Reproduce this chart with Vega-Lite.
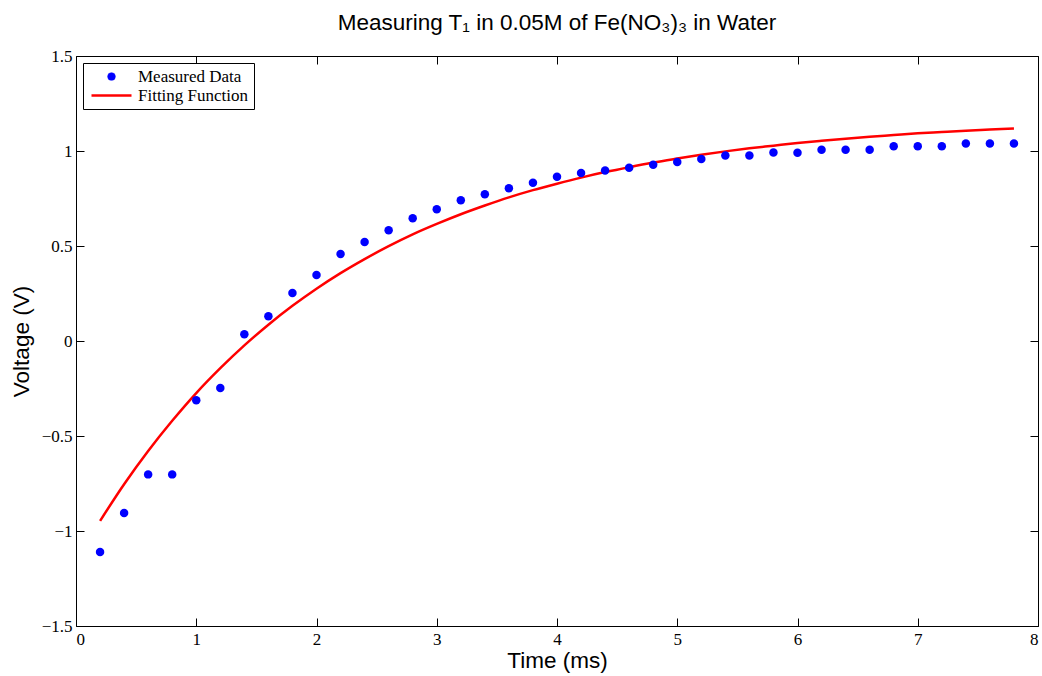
{
  "$schema": "https://vega.github.io/schema/vega-lite/v6.json",
  "width": 962,
  "height": 570,
  "autosize": "none",
  "padding": {"left": 76, "top": 56, "right": 4, "bottom": 50},
  "background": "white",
  "title": {
    "text": "Measuring T₁ in 0.05M of Fe(NO₃)₃ in Water",
    "font": "Liberation Sans",
    "fontSize": 22.5,
    "fontWeight": "normal",
    "color": "black",
    "offset": 13,
    "anchor": "middle"
  },
  "config": {
    "view": {"stroke": "black", "strokeWidth": 1},
    "axis": {
      "domain": false,
      "grid": false,
      "tickColor": "black",
      "tickWidth": 1,
      "tickSize": -8,
      "labelFont": "Liberation Serif",
      "labelFontSize": 17,
      "labelColor": "black",
      "titleFont": "Liberation Sans",
      "titleFontSize": 22.5,
      "titleFontWeight": "normal",
      "titleColor": "black"
    },
    "legend": {
      "orient": "top-left",
      "offset": 7,
      "strokeColor": "black",
      "strokeWidth": 1,
      "fillColor": "white",
      "cornerRadius": 0,
      "padding": 5,
      "labelFont": "Liberation Serif",
      "labelFontSize": 17,
      "labelColor": "black",
      "labelOffset": 18,
      "symbolOffset": 15,
      "rowPadding": 1,
      "title": null
    }
  },
  "datasets": {
    "measured": [
      {"t": 0.2, "v": -1.11}, {"t": 0.4, "v": -0.905}, {"t": 0.6, "v": -0.702}, {"t": 0.8, "v": -0.702},
      {"t": 1.0, "v": -0.312}, {"t": 1.2, "v": -0.247}, {"t": 1.4, "v": 0.035}, {"t": 1.6, "v": 0.13},
      {"t": 1.8, "v": 0.253}, {"t": 2.0, "v": 0.347}, {"t": 2.2, "v": 0.458}, {"t": 2.4, "v": 0.521},
      {"t": 2.6, "v": 0.583}, {"t": 2.8, "v": 0.646}, {"t": 3.0, "v": 0.693}, {"t": 3.2, "v": 0.741},
      {"t": 3.4, "v": 0.772}, {"t": 3.6, "v": 0.804}, {"t": 3.8, "v": 0.833}, {"t": 4.0, "v": 0.864},
      {"t": 4.2, "v": 0.884}, {"t": 4.4, "v": 0.897}, {"t": 4.6, "v": 0.912}, {"t": 4.8, "v": 0.928},
      {"t": 5.0, "v": 0.942}, {"t": 5.2, "v": 0.958}, {"t": 5.4, "v": 0.976}, {"t": 5.6, "v": 0.976},
      {"t": 5.8, "v": 0.992}, {"t": 6.0, "v": 0.991}, {"t": 6.2, "v": 1.007}, {"t": 6.4, "v": 1.007},
      {"t": 6.6, "v": 1.007}, {"t": 6.8, "v": 1.025}, {"t": 7.0, "v": 1.025}, {"t": 7.2, "v": 1.025},
      {"t": 7.4, "v": 1.039}, {"t": 7.6, "v": 1.039}, {"t": 7.8, "v": 1.039}
    ],
    "fit": [
      {"t": 0.2, "v": -0.947}, {"t": 0.4, "v": -0.754}, {"t": 0.6, "v": -0.579}, {"t": 0.8, "v": -0.42},
      {"t": 1.0, "v": -0.274}, {"t": 1.2, "v": -0.143}, {"t": 1.4, "v": -0.023}, {"t": 1.6, "v": 0.086},
      {"t": 1.8, "v": 0.185}, {"t": 2.0, "v": 0.275}, {"t": 2.2, "v": 0.357}, {"t": 2.4, "v": 0.431},
      {"t": 2.6, "v": 0.499}, {"t": 2.8, "v": 0.561}, {"t": 3.0, "v": 0.616}, {"t": 3.2, "v": 0.667},
      {"t": 3.4, "v": 0.713}, {"t": 3.6, "v": 0.756}, {"t": 3.8, "v": 0.794}, {"t": 4.0, "v": 0.828},
      {"t": 4.2, "v": 0.86}, {"t": 4.4, "v": 0.889}, {"t": 4.6, "v": 0.915}, {"t": 4.8, "v": 0.939},
      {"t": 5.0, "v": 0.96}, {"t": 5.2, "v": 0.98}, {"t": 5.4, "v": 0.998}, {"t": 5.6, "v": 1.014},
      {"t": 5.8, "v": 1.028}, {"t": 6.0, "v": 1.042}, {"t": 6.2, "v": 1.054}, {"t": 6.4, "v": 1.065},
      {"t": 6.6, "v": 1.075}, {"t": 6.8, "v": 1.084}, {"t": 7.0, "v": 1.093}, {"t": 7.2, "v": 1.1},
      {"t": 7.4, "v": 1.107}, {"t": 7.6, "v": 1.113}, {"t": 7.8, "v": 1.119}
    ]
  },
  "layer": [
    {
      "data": {"name": "fit"},
      "mark": {"type": "line", "strokeWidth": 2.5, "interpolate": "monotone"},
      "encoding": {
        "x": {"field": "t", "type": "quantitative", "scale": {"domain": [0, 8], "nice": false},
          "axis": {"orient": "bottom", "title": "Time (ms)", "values": [0,1,2,3,4,5,6,7,8], "format": "~g", "labelPadding": 13, "titleY": 41, "titleBaseline": "alphabetic"}},
        "y": {"field": "v", "type": "quantitative", "scale": {"domain": [-1.5, 1.5], "nice": false, "zero": false},
          "axis": {"orient": "left", "title": "Voltage (V)", "values": [-1.5,-1,-0.5,0,0.5,1,1.5], "format": "~g", "labelPadding": 12, "titleX": -48, "titleBaseline": "alphabetic", "titleAngle": -90}},
        "color": {"datum": "Fitting Function", "type": "nominal",
          "scale": {"domain": ["Measured Data", "Fitting Function"], "range": ["#0000ff", "#ff0000"]},
          "legend": {
            "encode": {
              "symbols": {
                "update": {
                  "shape": {"signal": "datum.value === 'Measured Data' ? 'circle' : 'stroke'"},
                  "size": {"signal": "datum.value === 'Measured Data' ? 60 : 1600"},
                  "fill": {"signal": "datum.value === 'Measured Data' ? '#0000ff' : 'transparent'"},
                  "stroke": {"signal": "datum.value === 'Measured Data' ? '#0000ff' : '#ff0000'"},
                  "strokeWidth": {"signal": "datum.value === 'Measured Data' ? 0.5 : 2.5"},
                  "opacity": {"value": 1}
                }
              }
            }
          }}
      }
    },
    {
      "data": {"name": "measured"},
      "mark": {"type": "point", "filled": true, "size": 72, "opacity": 1},
      "encoding": {
        "x": {"field": "t", "type": "quantitative", "scale": {"domain": [0, 8], "nice": false},
          "axis": {"orient": "top", "title": null, "labels": false, "values": [0,1,2,3,4,5,6,7,8]}},
        "y": {"field": "v", "type": "quantitative", "scale": {"domain": [-1.5, 1.5], "nice": false, "zero": false},
          "axis": {"orient": "right", "title": null, "labels": false, "values": [-1.5,-1,-0.5,0,0.5,1,1.5]}},
        "color": {"datum": "Measured Data", "type": "nominal"}
      }
    }
  ],
  "resolve": {"axis": {"x": "independent", "y": "independent"}}
}
